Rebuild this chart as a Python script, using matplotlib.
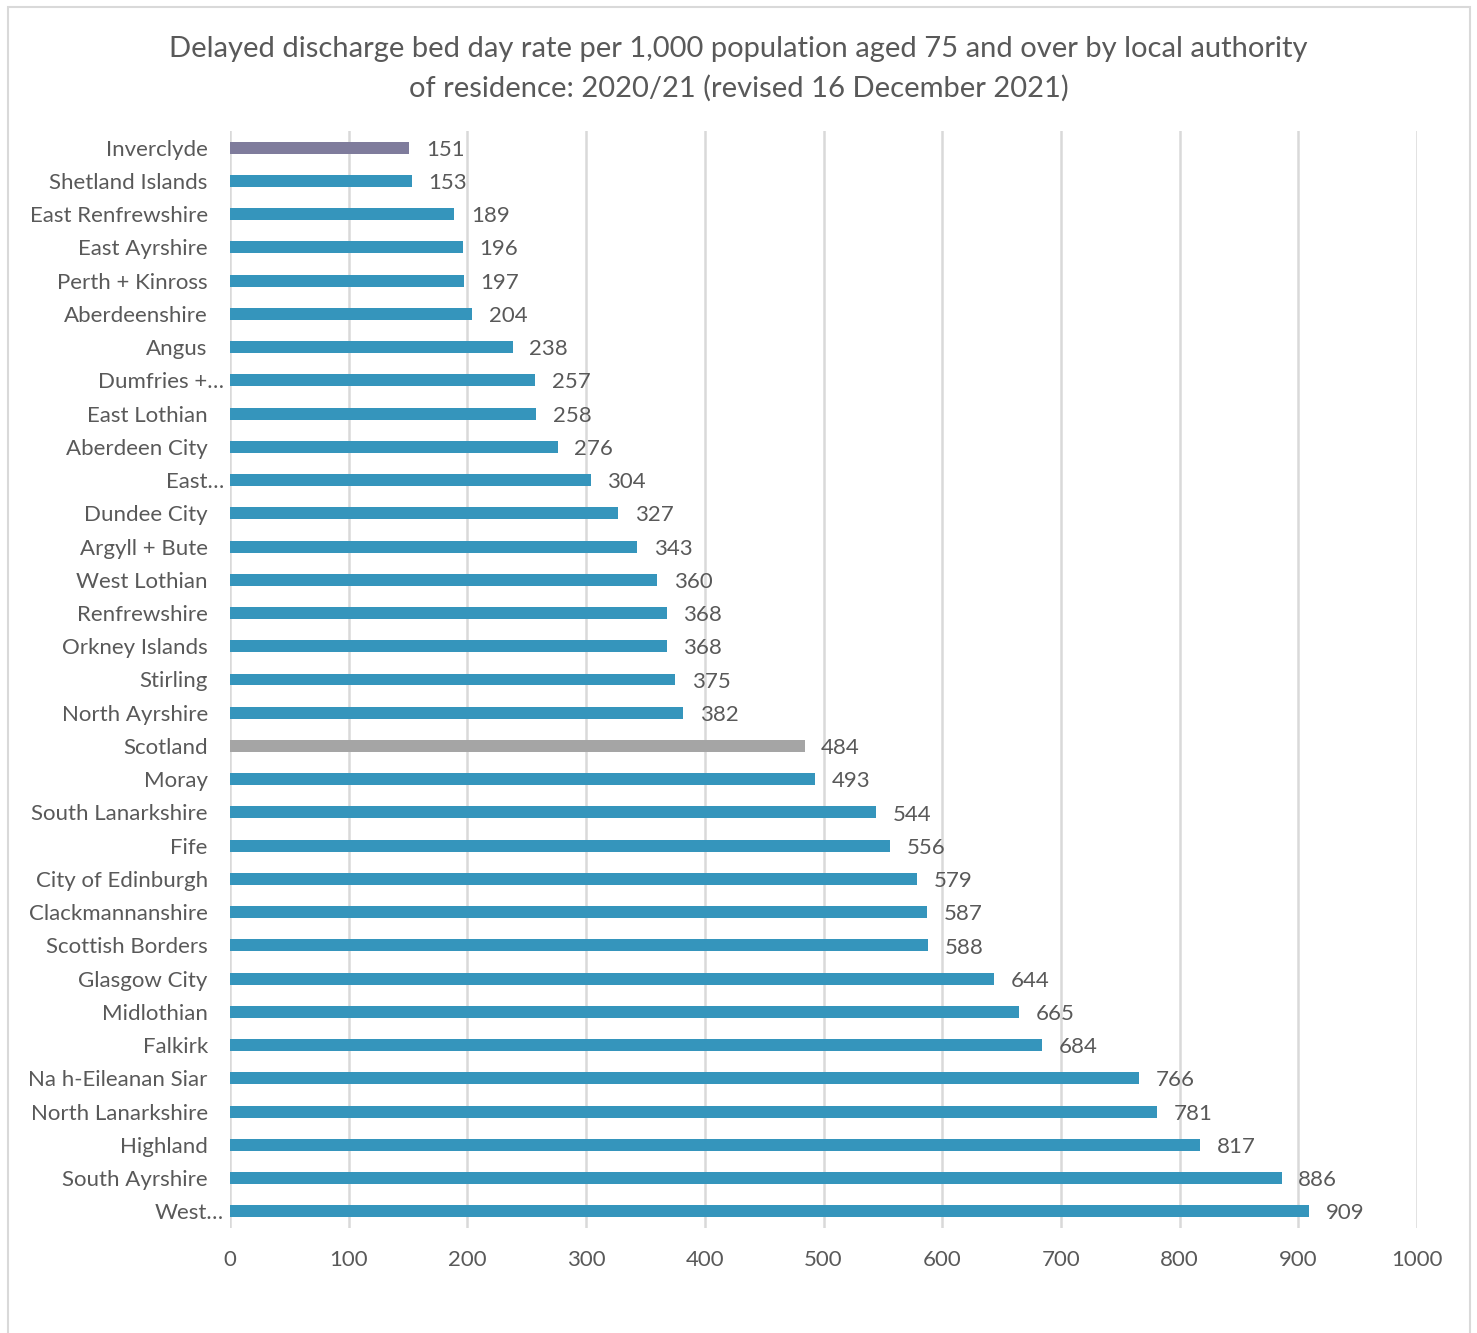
import matplotlib
matplotlib.use("Agg")
import matplotlib.pyplot as plt
import matplotlib.transforms as mtransforms
from matplotlib.patches import Rectangle

categories = ["Inverclyde", "Shetland Islands", "East Renfrewshire", "East Ayrshire",
              "Perth + Kinross", "Aberdeenshire", "Angus", "Dumfries +…", "East Lothian",
              "Aberdeen City", "East…", "Dundee City", "Argyll + Bute", "West Lothian",
              "Renfrewshire", "Orkney Islands", "Stirling", "North Ayrshire", "Scotland",
              "Moray", "South Lanarkshire", "Fife", "City of Edinburgh", "Clackmannanshire",
              "Scottish Borders", "Glasgow City", "Midlothian", "Falkirk", "Na h-Eileanan Siar",
              "North Lanarkshire", "Highland", "South Ayrshire", "West…"]
values = [151, 153, 189, 196, 197, 204, 238, 257, 258, 276, 304, 327, 343, 360, 368, 368,
          375, 382, 484, 493, 544, 556, 579, 587, 588, 644, 665, 684, 766, 781, 817, 886, 909]
x_ticks = [0, 100, 200, 300, 400, 500, 600, 700, 800, 900, 1000]

BLUE = "#3595BC"
HIGHLIGHT = "#7F7C9C"
NATIONAL = "#A5A5A5"
TXT = "#595959"

colors = []
for c in categories:
    if c == "Inverclyde":
        colors.append(HIGHLIGHT)
    elif c == "Scotland":
        colors.append(NATIONAL)
    else:
        colors.append(BLUE)

plt.rcParams['font.family'] = ['Lato', 'DejaVu Sans']

fig = plt.figure(figsize=(14.77, 13.33), dpi=100)
ax = fig.add_axes([230/1477, 1 - 1228/1333, (1417-230)/1477, (1228-131)/1333])

fig.patches.append(Rectangle((8/1477, -0.05), (1470-8)/1477, 1.05 - 7/1333,
                             transform=fig.transFigure, fill=False,
                             edgecolor="#D9D9D9", linewidth=1.5))

ypos = list(range(len(categories)))
bars = ax.barh(ypos, values, height=0.36, color=colors, zorder=3)
ax.set_ylim(len(categories) - 0.5, -0.5)
ax.set_xlim(0, 1000)
ax.set_xticks(x_ticks)
ax.set_xticklabels([str(t) for t in x_ticks])
ax.set_yticks(ypos)
ax.set_yticklabels(categories)

labels = ax.bar_label(bars, labels=[str(v) for v in values], padding=12, fontsize=16, color=TXT)
for t in labels:
    t.xyann = (12, -1.5)

ax.grid(axis="x", color="#D9D9D9", linewidth=1.8, zorder=0)
ax.set_axisbelow(True)
for s in ax.spines.values():
    s.set_visible(False)
ax.tick_params(axis="both", length=0, labelsize=16, labelcolor=TXT)
ax.tick_params(axis="y", pad=16)
ax.tick_params(axis="x", pad=16)

# truncated labels sit closer to the axis
for lbl in ax.get_yticklabels():
    if lbl.get_text().endswith("…"):
        lbl.set_transform(lbl.get_transform() + mtransforms.ScaledTranslation(16/100, 0, fig.dpi_scale_trans))

fig.text(0.5, 1 - 49/1333, "Delayed discharge bed day rate per 1,000 population aged 75 and over by local authority",
         ha="center", va="center", fontsize=21, color=TXT)
fig.text(0.5, 1 - 88/1333, "of residence: 2020/21 (revised 16 December 2021)",
         ha="center", va="center", fontsize=21, color=TXT)

fig.savefig("out.png", dpi=100)
